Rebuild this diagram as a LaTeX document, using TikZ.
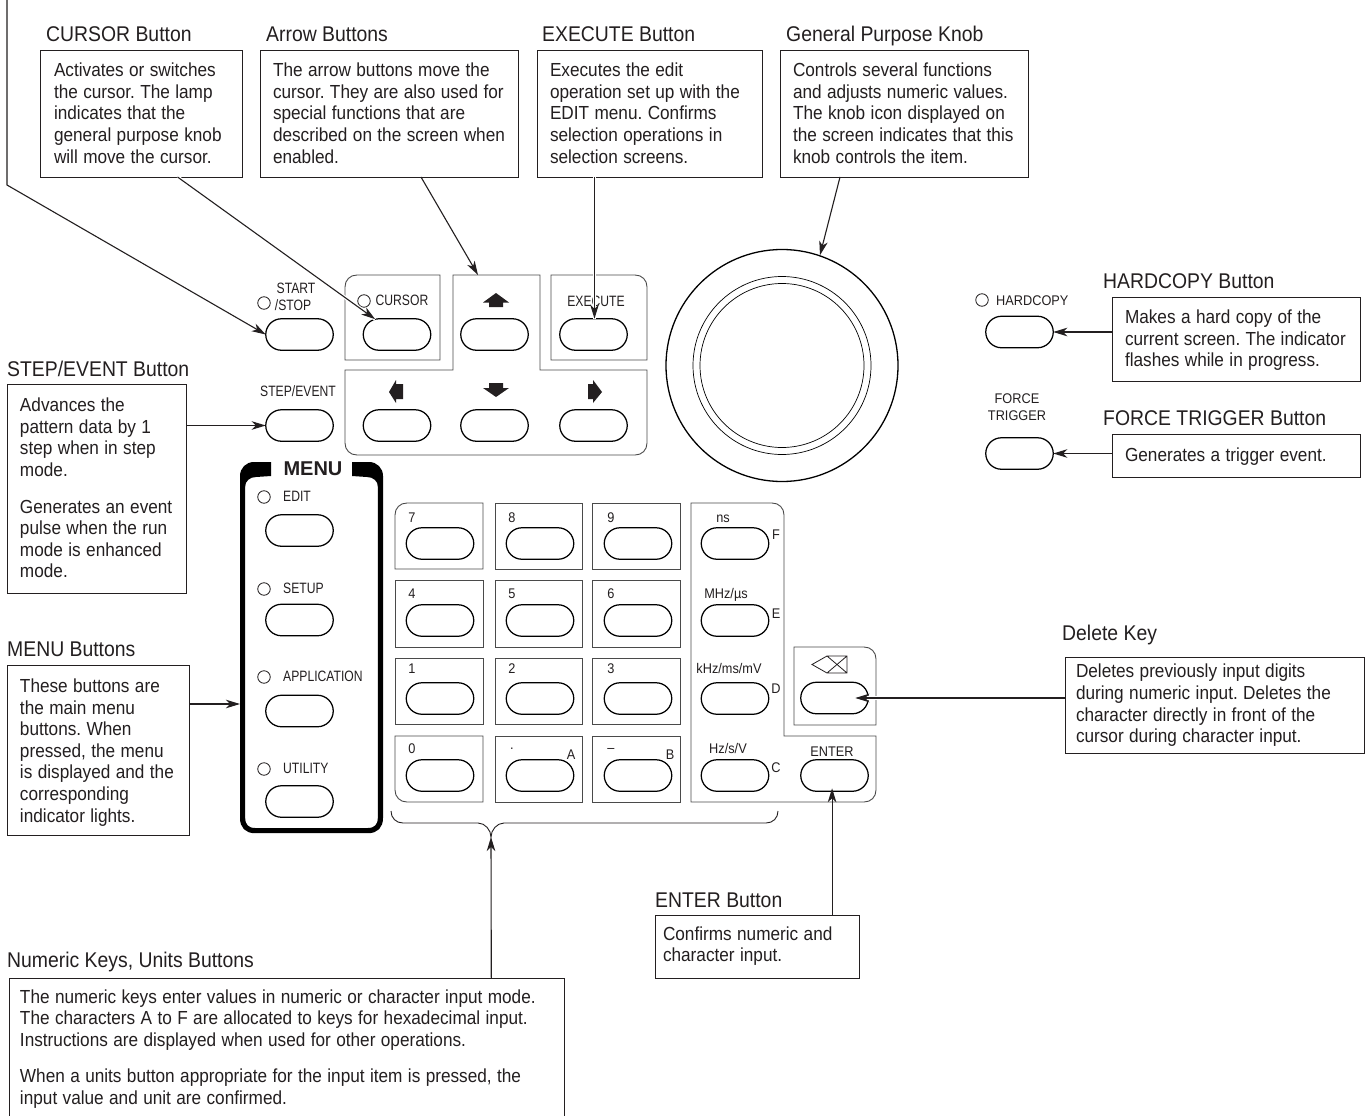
\documentclass[tikz,border=0pt]{standalone}
\usepackage{fontspec}
\setmainfont{Liberation Sans}
\newfontfamily\bodyf{Liberation Sans}[FakeStretch=0.91]
\newfontfamily\labf{Liberation Sans}[FakeStretch=0.81]
\newfontfamily\keyf{Liberation Sans}[FakeStretch=0.91]
\usetikzlibrary{shapes.misc,arrows.meta,calc}
\definecolor{ink}{HTML}{231F20}
\definecolor{pline}{HTML}{4A4A4A}
\frenchspacing
\newcommand{\boxlines}[3][4pt]{\hspace*{#2pt}\vbox{\kern#1\hbox{\spaceskip=5.4pt\relax\begin{tabular}{@{}l@{}}#3\end{tabular}}}}
\tikzset{
  txtbox/.style={draw=ink,line width=0.9pt,anchor=north west,inner sep=0pt,outer sep=0pt,align=left,text=ink,font=\bodyf\fontsize{18.9}{21.6}\selectfont},
  title/.style={anchor=base west,inner sep=0pt,text=ink,font=\bodyf\fontsize{21.3}{24}\selectfont},
  btn/.style={draw=black,rounded rectangle,line width=1.25pt,minimum width=67.5pt,minimum height=31.5pt,inner sep=0pt,outer sep=0pt},
  panel/.style={draw=pline,line width=0.9pt},
  led/.style={circle,draw=ink,line width=0.8pt,minimum size=12.5pt,inner sep=0pt},
  lab/.style={anchor=base,inner sep=0pt,text=ink,font=\labf\fontsize{15}{17}\selectfont},
  keylab/.style={anchor=base,inner sep=0pt,text=ink,font=\keyf\fontsize{14}{16}\selectfont},
  conn/.style={draw=ink,line width=1.1pt,-{Stealth[length=14pt,width=8.5pt,inset=4pt]}},
  halo/.style={preaction={draw=white,line width=3.5pt,-}},
  icon/.style={fill=ink,draw=none},
}
\begin{document}
\begin{tikzpicture}[x=1pt,y=-1pt]
\clip (0,0) rectangle (1369,1116);
\fill[white] (0,0) rectangle (1369,1116);

% titles
\node[title] (t1) at (46,42) {CURSOR Button};
\node[title] (t2) at (266,42) {Arrow Buttons};
\node[title] (t3) at (542,42) {EXECUTE Button};
\node[title] (t4) at (786,42) {General Purpose Knob};
\node[title] (t5) at (1103,288) {HARDCOPY Button};
\node[title] (t6) at (1103,425.5) {FORCE TRIGGER Button};
\node[title] (t7) at (7,376.5) {STEP/EVENT Button};
\node[title] (t8) at (7,656.5) {MENU Buttons};
\node[title] (t9) at (1062,640.5) {Delete Key};
\node[title] (t10) at (655,907.5) {ENTER Button};
\node[title] (t11) at (7,967) {Numeric Keys, Units Buttons};

% description boxes
\node[txtbox,text width=201.5pt,minimum height=127pt] (boxcursor) at (40.5,50)
 {\boxlines{13.5}{Activates or switches\\the cursor. The lamp\\indicates that the\\general purpose knob\\will move the cursor.}};
\node[txtbox,text width=258pt,minimum height=127pt] (boxarrow) at (260,50)
 {\boxlines{13}{The arrow buttons move the\\cursor. They are also used for\\special functions that are\\described on the screen when\\enabled.}};
\node[txtbox,text width=225pt,minimum height=127pt] (boxexec) at (537,50)
 {\boxlines{13}{Executes the edit\\operation set up with the\\EDIT menu. Confirms\\selection operations in\\selection screens.}};
\node[txtbox,text width=248pt,minimum height=127pt] (boxknob) at (780,50)
 {\boxlines{13}{Controls several functions\\and adjusts numeric values.\\The knob icon displayed on\\the screen indicates that this\\knob controls the item.}};
\node[txtbox,text width=248pt,minimum height=84pt] (boxhard) at (1112,297)
 {\boxlines{13}{Makes a hard copy of the\\current screen. The indicator\\flashes while in progress.}};
\node[txtbox,text width=248pt,minimum height=43pt] (boxforce) at (1112,434)
 {\boxlines{13}{Generates a trigger event.}};
\node[txtbox,text width=179pt,minimum height=209pt] (boxstep) at (7,384)
 {\boxlines{13}{Advances the\\pattern data by 1\\step when in step\\mode.\\[15pt]Generates an event\\pulse when the run\\mode is enhanced\\mode.}};
\node[txtbox,text width=182pt,minimum height=170pt] (boxmenu) at (7,665)
 {\boxlines[6pt]{13}{These buttons are\\the main menu\\buttons. When\\pressed, the menu\\is displayed and the\\corresponding\\indicator lights.}};
\node[txtbox,text width=299pt,minimum height=96pt] (boxdel) at (1065,657)
 {\boxlines[2pt]{11}{Deletes previously input digits\\during numeric input. Deletes the\\character directly in front of the\\cursor during character input.}};
\node[txtbox,text width=204pt,minimum height=63pt] (boxenter) at (655,915)
 {\boxlines[0pt]{8}{Confirms numeric and\\character input.}};
\node[txtbox,text width=555pt,minimum height=139pt] (boxnum) at (9,978)
 {\boxlines{11}{The numeric keys enter values in numeric or character input mode.\\The characters A to F are allocated to keys for hexadecimal input.\\Instructions are displayed when used for other operations.\\[15pt]When a units button appropriate for the input item is pressed, the\\input value and unit are confirmed.}};

% upper panels
\draw[panel] (440,360) -- (440,275) -- (357,275) .. controls (350,275) and (345,280) .. (345,287) -- (345,360) -- cycle;
\draw[panel] (551,360) -- (551,275) -- (635,275) .. controls (642,275) and (647,280) .. (647,287) -- (647,360) -- cycle;
\draw[panel] (453,275) -- (540,275) -- (540,370) -- (647,370) -- (647,443) .. controls (647,450) and (642,455) .. (635,455) -- (357,455) .. controls (350,455) and (345,450) .. (345,443) -- (345,370) -- (453,370) -- cycle;
\coordinate (arrowtop) at (478,275);

% arrow icons
\path[icon] (496,293) -- (509,302.5) -- (503,302.5) -- (503,307) -- (489,307) -- (489,302.5) -- (483,302.5) -- cycle;
\path[icon] (496,397) -- (509,388) -- (503,388) -- (503,383) -- (489,383) -- (489,388) -- (483,388) -- cycle;
\path[icon] (389,392) -- (396,380) -- (396,384) -- (403,384) -- (403,399) -- (396,399) -- (396,403) -- cycle;
\path[icon] (602,392) -- (593,380) -- (593,384) -- (588,384) -- (588,399) -- (593,399) -- (593,403) -- cycle;

% upper labels
\node[led] (lstart) at (264,303) {};
\node[lab] (xstart) at (296,293.5) {START};
\node[lab] (xstop) at (293,310.5) {/STOP};
\node[led] (lcursor) at (364,301) {};
\node[lab] (xcursor) at (402,305.5) {CURSOR};
\node[lab] (xexec) at (596,306.5) {EXECUTE};
\node[lab] (xstep) at (298,396.5) {STEP/EVENT};

% knob
\node[circle,draw=black,line width=1.3pt,minimum size=232pt,inner sep=0pt] (knob) at (782,365.5) {};
\node[circle,draw=black,line width=0.7pt,minimum size=178pt,inner sep=0pt] (knobb) at (782,365.5) {};
\node[circle,draw=black,line width=0.7pt,minimum size=164pt,inner sep=0pt] (knobc) at (782,365.5) {};

% menu frame
\fill[black] (240,476) .. controls (240,468) and (246,462) .. (254,462) -- (271,462) -- (271,476) -- (256,477) .. controls (250,477) and (245,481) .. (245,487) -- cycle;
\fill[black] (383,476) .. controls (383,468) and (377,462) .. (369,462) -- (352,462) -- (352,476) -- (367,477) .. controls (373,477) and (378,481) .. (378,487) -- cycle;
\draw[black,line width=5.2pt] (242.6,476) -- (242.6,818) .. controls (242.6,826) and (247,830.6) .. (255,830.6) -- (368,830.6) .. controls (376,830.6) and (380.4,826) .. (380.4,818) -- (380.4,476);
\node[anchor=base,inner sep=0pt,text=ink,font=\fontsize{20}{22}\selectfont\bfseries] (xmenu) at (313,475) {MENU};
\coordinate (menuedge) at (240,704);
\foreach \n/\t/\y in {a/EDIT/496,b/SETUP/588,c/APPLICATION/676,d/UTILITY/768}{
  \node[led] (l\n) at (264,\y+1) {};
  \node[lab,anchor=base west] (x\n) at (283,\y+5.5) {\t};
}

% keypad panels
\draw[panel] (483,569) -- (483,503) -- (407,503) .. controls (400,503) and (395,508) .. (395,515) -- (395,569) -- cycle;
\draw[panel] (395,580) rectangle (483,647);
\draw[panel] (395,658) rectangle (483,724);
\draw[panel] (483,736) -- (483,802) -- (407,802) .. controls (400,802) and (395,797) .. (395,790) -- (395,736) -- cycle;
\foreach \x/\w in {495/582,592/680}{
  \draw[panel] (\x,503) rectangle (\w,569);
  \draw[panel] (\x,580) rectangle (\w,647);
  \draw[panel] (\x,658) rectangle (\w,724);
  \draw[panel] (\x,736) rectangle (\w,802);
}
\draw[panel] (691,503) -- (772,503) .. controls (779,503) and (784,508) .. (784,515) -- (784,736) -- (876,736) -- (876,790) .. controls (876,797) and (871,802) .. (864,802) -- (691,802) -- cycle;
\draw[panel] (794,725) -- (794,647) -- (864,647) .. controls (871,647) and (876,652) .. (876,659) -- (876,725) -- cycle;
\draw[ink,line width=0.8pt] (812,664.5) -- (827,656) -- (847,656) -- (847,673) -- (827,673) -- cycle (827,656) -- (847,673) (847,656) -- (827,673);

% key labels
\node[keylab] (k7) at (412,522) {7};
\node[keylab] (k8) at (512,522) {8};
\node[keylab] (k9) at (611,522) {9};
\node[keylab] (k4) at (412,598) {4};
\node[keylab] (k5) at (512,598) {5};
\node[keylab] (k6) at (611,598) {6};
\node[keylab] (k1) at (412,673) {1};
\node[keylab] (k2) at (512,673) {2};
\node[keylab] (k3) at (611,673) {3};
\node[keylab] (k0) at (412,753) {0};
\node[keylab] (kdot) at (512,749) {.};
\node[keylab] (kA) at (571,759) {A};
\node[keylab] (kminus) at (611,752) {–};
\node[keylab] (kB) at (670,759) {B};
\node[keylab] (kns) at (723,522) {ns};
\node[keylab] (kmhz) at (726,598) {MHz/µs};
\node[keylab] (kkhz) at (729,673) {kHz/ms/mV};
\node[keylab] (khz) at (728,753) {Hz/s/V};
\node[keylab] (kent) at (832,756) {ENTER};
\node[keylab] (kF) at (776,539) {F};
\node[keylab] (kE) at (776,618) {E};
\node[keylab] (kD) at (776,693) {D};
\node[keylab] (kC) at (776,772) {C};
\node[keylab,anchor=base west] (xhard) at (996,305) {HARDCOPY};
\node[led] (lhard) at (982,300) {};
\node[keylab] (xforce) at (1017,403) {FORCE};
\node[keylab] (xtrig) at (1017,420) {TRIGGER};

% brace
\draw[ink,line width=0.9pt] (391,811) .. controls (391,818) and (396,823) .. (403,823) -- (478,823) .. controls (485,823) and (491,830) .. (491,837) .. controls (491,830) and (497,823) .. (504,823) -- (766,823) .. controls (773,823) and (778,818) .. (778,811);
\coordinate (bracetip) at (491,837);

% connector ends on the boxes
\coordinate (freetop) at (7,-3);
\coordinate (freebend) at (7,185);
\coordinate (fromcursor) at ($(boxcursor.south west)!0.68!(boxcursor.south east)$);
\coordinate (fromarrow) at ($(boxarrow.south west)!0.624!(boxarrow.south east)$);
\coordinate (fromexec) at ($(boxexec.south west)!0.2555!(boxexec.south east)$);
\coordinate (fromknob) at ($(boxknob.south west)!0.242!(boxknob.south east)$);
\coordinate (fromnum) at ($(boxnum.north west)!0.869!(boxnum.north east)$);
\coordinate (fromenter) at ($(boxenter.north west)!0.868!(boxenter.north east)$);

% buttons
\foreach \n/\x/\y in {start/299.5/334.5,cursor/397/334.5,up/494.5/334.5,exec/593.5/334.5,
 step/299.5/425.5,left/397/425.5,down/494.5/425.5,right/593.5/425.5,
 ma/299.5/530.5,mb/299.5/620,mc/299.5/711,md/299.5/801.5,
 k7/440/543.5,k8/540/543.5,k9/638/543.5,
 k4/440/620.5,k5/540/620.5,k6/638/620.5,
 k1/440/698.5,k2/540/698.5,k3/638/698.5,
 k0/440/775.5,kd/540/775.5,km/638/775.5,
 ns/735/543.5,mhz/735/620.5,khz/735/698.5,hz/735/775.5,
 ent/834.5/775.5,del/834.5/698,
 hard/1019.5/332,force/1019.5/453.5}{
  \node[btn] (b\n) at (\x,\y) {};
}

% connectors
\draw[conn] (freetop) -- (freebend) -- (bstart.west);
\draw[conn,halo] (fromcursor) -- (bcursor.145);
\draw[conn] (fromarrow) -- (arrowtop);
\draw[conn,halo] (fromexec) -- (fromexec |- bexec.north);
\draw[conn] (fromknob) -- (knob.71);
\draw[conn] (boxhard.west |- bhard.east) -- (bhard.east);
\draw[conn] (boxforce.west |- bforce.east) -- (bforce.east);
\draw[conn] (boxstep.east |- bstep.west) -- (bstep.west);
\draw[conn] (boxmenu.east |- menuedge) -- (menuedge);
\draw[conn,halo,shorten >=-13pt] (boxdel.west |- bdel.east) -- (bdel.east);
\draw[conn] (fromnum) -- (bracetip);
\draw[conn,shorten >=-3pt] (fromenter) -- (fromenter |- bent.south);
\end{tikzpicture}
\end{document}
